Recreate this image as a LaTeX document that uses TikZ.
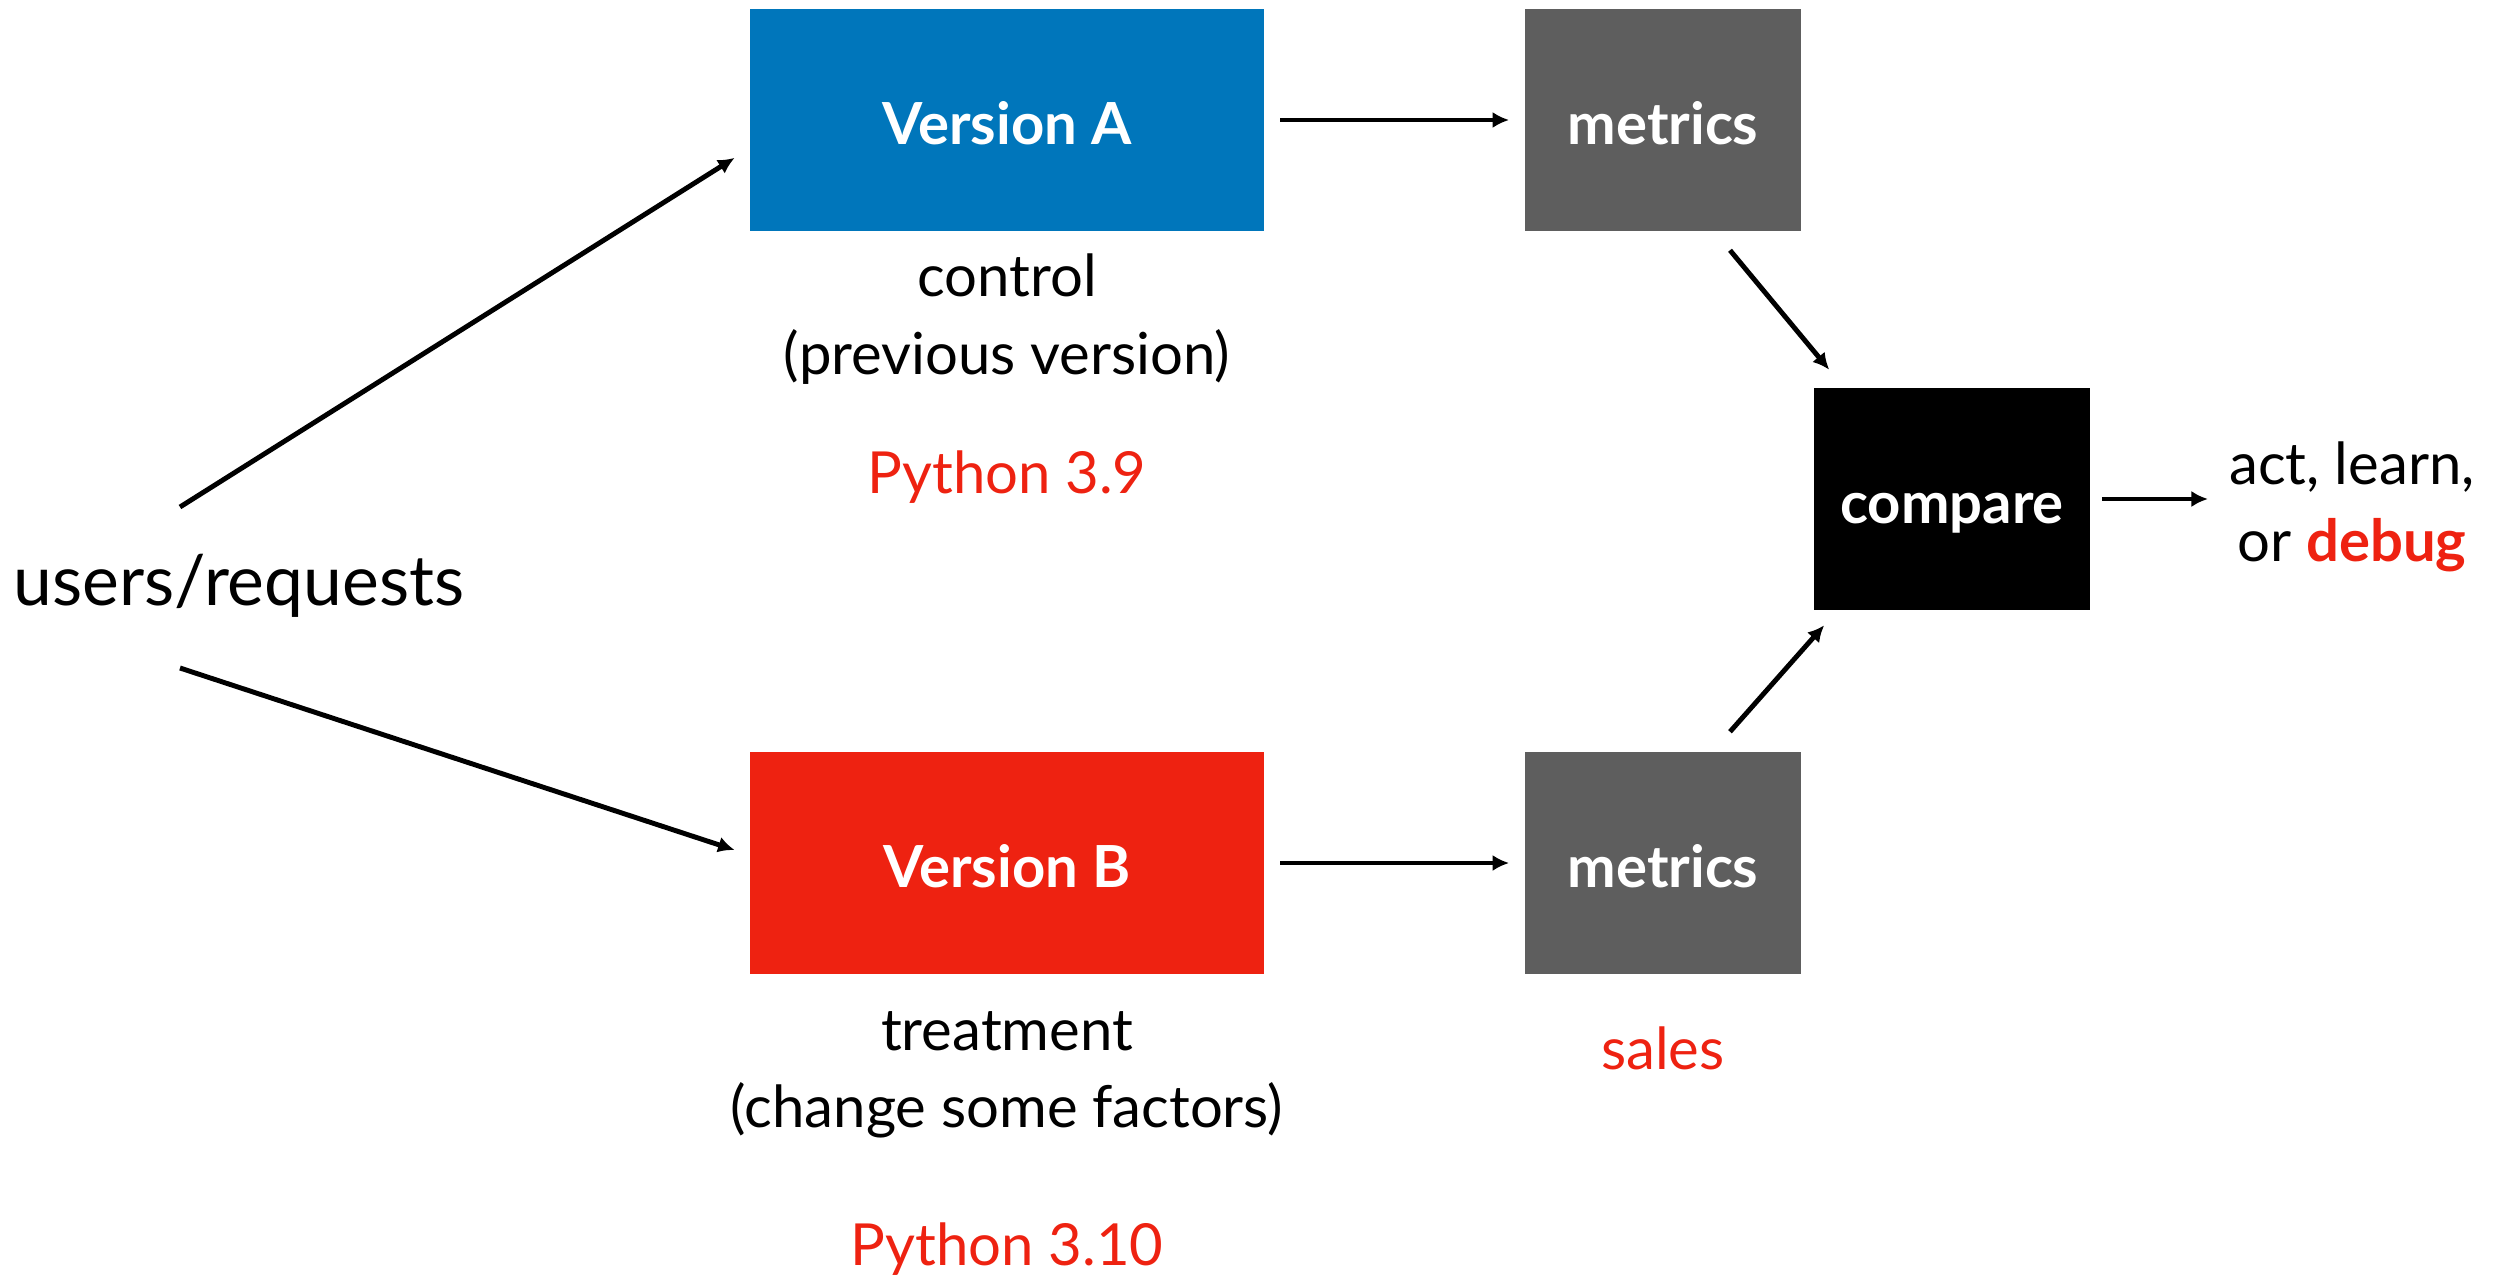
\documentclass[tikz,border=0pt]{standalone}
\usepackage{fontspec}
\setmainfont{Lato}
\usetikzlibrary{arrows.meta,calc}

\definecolor{ctrlblue}{RGB}{0,118,187}
\definecolor{treatred}{RGB}{238,34,17}
\definecolor{metricgray}{RGB}{94,94,94}

\tikzset{
  box/.style={minimum width=5.13cm, minimum height=2.21cm, inner sep=0pt,
    text height=14pt, text depth=0pt,
    text=white, font=\fontsize{16.5}{20}\selectfont\bfseries},
  smallbox/.style={box, minimum width=2.76cm},
  note/.style={align=center, font=\fontsize{16.5}{22}\selectfont},
  hot/.style={note, text=treatred},
  flow/.style={-{Latex[length=4.7pt,width=4.6pt]}, line width=1.4pt}
}

\begin{document}
\begin{tikzpicture}[x=0.01cm, y=-0.01cm]
  \useasboundingbox (0,0) rectangle (2500,1282);

  % Source
  \node[font=\fontsize{19.8}{24}\selectfont] (users) at (239,586) {users/requests};

  % Versions
  \node[box, fill=ctrlblue] (vA) at (1007,120) {Version A};
  \node[box, fill=treatred] (vB) at (1007,863) {Version B};

  % Metrics and comparison
  \node[smallbox, fill=metricgray] (mA) at (1663,120) {metrics};
  \node[smallbox, fill=metricgray] (mB) at (1663,863) {metrics};
  \node[smallbox, fill=black] (cmp) at (1952,499) {compare};

  % Labels
  \node[note] (ctrl) at (1007,319) {control\\(previous version)};
  \node[hot] (pyA) at (1007,477) {Python 3.9};
  \node[note] (treat) at (1007,1075) {treatment\\(change some factors)};
  \node[hot] (pyB) at (1007,1249) {Python 3.10};
  \node[hot] (sales) at (1663,1048) {sales};
  \node[note, anchor=center] (out) at (2352,507) {act, learn,\\or \textcolor{treatred}{\bfseries debug}};

  % Arrows
  \coordinate (uA) at (180,507);
  \coordinate (uB) at (180,668);
  \draw[flow] (uA) -- ($(vA.south west)!0.33!(vA.north west)+(-15,0)$);
  \draw[flow] (uB) -- ($(vB.south west)!0.5!(vB.north west)+(-15,-13)$);
  \draw[flow, shorten <=4.5pt, shorten >=4.3pt] (vA.east) -- (mA.west);
  \draw[flow, shorten <=4.5pt, shorten >=4.3pt] (vB.east) -- (mB.west);
  \draw[flow] ($(mA.south)+(67,19)$) -- ($(cmp.north west)+(16,-18)$);
  \draw[flow] ($(mB.north)+(67,-20)$) -- ($(cmp.south west)+(11,15)$);
  \draw[flow] ($(cmp.east)+(11,0)$) -- ($(out.west)+(-9,-8)$);
\end{tikzpicture}
\end{document}
